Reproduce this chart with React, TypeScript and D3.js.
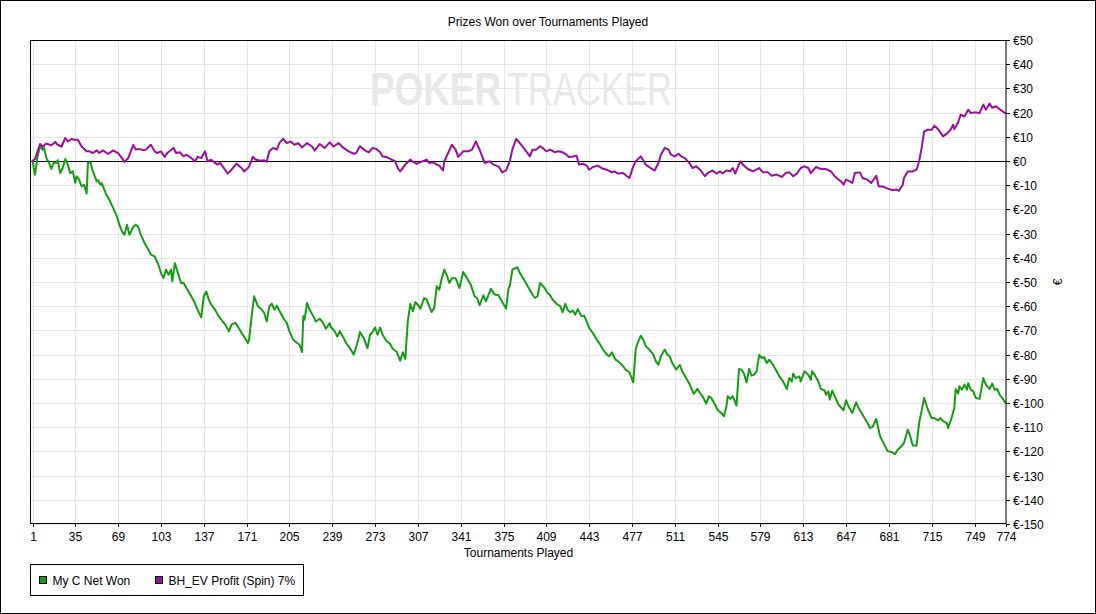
import React, { useEffect, useRef } from 'react';
import * as d3 from 'd3';

// [tournament, euros]
const netWon: [number, number][] = [
  [1, 0.5], [2, -2.9], [3, -5.7], [5, 1.9], [7, 6.3], [9, 4.7], [10, 5.8], [12, 1.2], [14, -0.6], [16, -3.3],
  [18, -0.6], [20, -0.8], [21, 0.3], [23, -5], [25, -2.9], [27, 0.8], [29, -1.5], [31, -5], [33, -4.3], [35, -9.1],
  [36, -6.3], [38, -7.7], [40, -10.5], [42, -9.8], [44, -13.5], [45, -0.6], [47, -0.6], [49, -4.3], [52, -8.4], [53, -8],
  [55, -9.8], [56, -9.1], [59, -13.2], [62, -16], [65, -19.4], [68, -22.9], [70, -26.3], [72, -29.1], [74, -30.5], [76, -26.3],
  [78, -30.5], [81, -27.3], [83, -26.3], [85, -27.3], [87, -30.5], [90, -33.9], [93, -36.6], [95, -38.7], [98, -39.4], [101, -42.9],
  [103, -46.3], [105, -48.4], [107, -44.9], [109, -47], [111, -44.9], [112, -49.7], [114, -42.2], [116, -45.6], [119, -50.4], [121, -50.4],
  [124, -53.2], [127, -55.9], [130, -58.7], [132, -61.4], [135, -64.6], [137, -55.9], [139, -53.9], [141, -57.3], [143, -59.4], [146, -61.4],
  [148, -63.5], [151, -65.6], [154, -67.6], [157, -70.4], [159, -67.6], [162, -66.9], [164, -68.3], [167, -71.1], [169, -72.5], [172, -75.2],
  [173, -73.8], [175, -64.2], [177, -55.9], [180, -60.1], [183, -61.4], [185, -62.8], [187, -66.3], [189, -60.1], [191, -58.9], [193, -61.4],
  [195, -59.8], [198, -62.8], [201, -65.6], [203, -67], [205, -70.4], [208, -73.8], [211, -75.2], [213, -75.9], [215, -78.9], [216, -64.2],
  [217, -65.6], [219, -58.7], [221, -61.4], [224, -64.2], [226, -66.3], [228, -65.6], [229, -65.2], [231, -66.3], [234, -69.3], [237, -67],
  [238, -68.7], [241, -70.4], [243, -72.5], [245, -70.3], [248, -73.1], [250, -75.2], [253, -77.3], [256, -80], [259, -75.2], [261, -70.7],
  [264, -73.2], [267, -77.3], [269, -71.8], [271, -70.7], [273, -68.8], [275, -71.8], [277, -68.8], [279, -71.8], [282, -74.3], [285, -75.6],
  [287, -77.6], [290, -78.7], [293, -82.5], [295, -79], [297, -81.8], [299, -66.3], [301, -59.1], [303, -62.1], [305, -58.3], [307, -59.4],
  [309, -61], [312, -56.6], [314, -57.3], [316, -60.1], [318, -62.4], [320, -60.7], [322, -51.8], [324, -53.2], [326, -48.4], [328, -44.9],
  [330, -47.3], [332, -50.4], [334, -48.4], [337, -48.4], [340, -52.5], [343, -45.9], [346, -48.4], [349, -51.1], [352, -55.9], [354, -56.6],
  [356, -59.6], [359, -55.5], [361, -58], [365, -52.8], [368, -55.2], [371, -55.5], [373, -57.3], [377, -61], [379, -52.5], [380, -51.8],
  [382, -44.9], [386, -43.9], [388, -46.3], [392, -49.7], [395, -52.5], [398, -55.2], [400, -56.6], [402, -55.9], [404, -50.4], [407, -52],
  [410, -54.5], [412, -55.5], [414, -57.3], [417, -59], [420, -60], [422, -62.5], [424, -59], [426, -61.6], [428, -62.5], [430, -61.8],
  [432, -63.5], [434, -61.2], [437, -64.2], [439, -64], [441, -66.3], [443, -69], [446, -71.1], [449, -73.8], [451, -75.2], [454, -77.9],
  [457, -80], [459, -80.7], [461, -79.1], [464, -82.1], [466, -82.8], [469, -84.2], [470, -84.9], [472, -86.2], [475, -87.3], [478, -91.5],
  [480, -77.7], [481, -75.9], [484, -72.2], [486, -73.8], [488, -76.6], [491, -78], [494, -80], [496, -82.8], [498, -84.2], [500, -80.7],
  [503, -77.9], [505, -80], [507, -80.7], [509, -83.5], [512, -86.2], [515, -84.2], [517, -87], [520, -89.7], [523, -92.5], [526, -96.2],
  [529, -94.2], [531, -95.9], [533, -97.2], [536, -100.3], [538, -97.2], [540, -97.9], [543, -100.7], [545, -102.8], [548, -104.2], [550, -105.5],
  [552, -101.4], [553, -97.2], [555, -98.3], [557, -97.2], [560, -101.1], [562, -85.9], [564, -86.2], [566, -87.9], [568, -91.5], [570, -85.9],
  [572, -88.7], [574, -88.3], [576, -86.9], [578, -80.1], [580, -81.4], [582, -81], [584, -83.5], [586, -82.1], [589, -84.2], [592, -87],
  [594, -89], [597, -91.1], [600, -94.2], [602, -89.7], [604, -91.1], [605, -87.9], [607, -89.7], [610, -89], [611, -91.1], [614, -86.9],
  [617, -88.3], [619, -90.4], [620, -86.9], [622, -88.3], [625, -91.1], [627, -94.2], [630, -94.8], [631, -96.6], [633, -95.2], [634, -98.6],
  [636, -94.9], [639, -98.4], [641, -100.7], [645, -103], [647, -98.9], [649, -101.4], [652, -104.1], [655, -99.7], [657, -102.1], [660, -104.8],
  [664, -108.3], [666, -110.3], [668, -109.9], [671, -106.6], [674, -113.8], [677, -116.8], [680, -119.9], [683, -120.2], [686, -121.1], [688, -119.3],
  [691, -117.9], [693, -116.5], [696, -111], [698, -113.8], [700, -117.6], [703, -117.6], [705, -108.3], [709, -97.9], [712, -102.8], [715, -106.2],
  [717, -106.2], [720, -107.2], [722, -106.2], [724, -107.5], [727, -108.3], [728, -110.3], [730, -107.5], [733, -102.1], [734, -94.2], [736, -96.1],
  [737, -93.1], [739, -94.5], [741, -92.4], [743, -94.5], [744, -91.8], [746, -94.5], [748, -95.2], [750, -97.9], [753, -98.3], [756, -89.7],
  [758, -92.4], [761, -94.2], [763, -92], [765, -94.5], [767, -94.2], [769, -96.6], [771, -97.9], [774, -100.3],
];

const evProfit: [number, number][] = [
  [1, 0], [3, 0.8], [7, 7], [9, 6], [12, 7.2], [16, 6.5], [19, 7.9], [21, 6.7], [24, 6], [27, 9.5],
  [29, 8.1], [32, 9.1], [34, 8.8], [37, 8.8], [40, 6], [44, 4], [46, 4], [49, 3.3], [52, 4.4], [54, 3.3],
  [57, 4.4], [61, 2.9], [65, 4.4], [69, 3.3], [72, 1.2], [74, -0.4], [77, 1.2], [81, 6.7], [83, 4.7], [86, 5],
  [89, 4.4], [91, 4.7], [95, 6.7], [98, 4], [100, 3.3], [103, 4], [106, 1.7], [108, 3.3], [113, 5.4], [115, 3.3],
  [118, 3.6], [121, 1.9], [123, 2.6], [126, 1.7], [128, 0.8], [130, -0.1], [132, 1.7], [135, 1.2], [138, 4], [140, -0.1],
  [143, 0.5], [146, -0.8], [148, -1.5], [150, -0.8], [152, -2.2], [156, -5.2], [159, -3.6], [163, -1.1], [167, -2.9], [169, -4.3],
  [172, -2.9], [173, -2.2], [176, 1.7], [178, 0.6], [182, 0.1], [185, 0.3], [187, -0.3], [189, 4], [192, 5.4], [195, 4.7],
  [197, 7.4], [200, 9.2], [203, 7.4], [206, 8.1], [209, 6.7], [212, 7.4], [215, 5.6], [219, 7.4], [223, 6], [225, 4.3],
  [229, 7], [233, 5.4], [237, 7.7], [240, 6], [244, 7.4], [248, 5.4], [252, 4], [256, 3], [258, 3.3], [261, 6.1],
  [265, 4.4], [268, 3.6], [271, 5.4], [274, 5], [277, 3.6], [279, 1.9], [282, 1.7], [286, 0.6], [289, -0.1], [291, -2.9],
  [293, -4.3], [297, -1.5], [301, 0.6], [303, -0.3], [306, -1.2], [309, -0.4], [311, -0.1], [314, 0.6], [316, -0.8], [319, -0.5],
  [322, -1.5], [324, -1.9], [327, -3.9], [328, -0.1], [331, 3.3], [334, 6.7], [337, 4.7], [339, 1.7], [343, 4], [347, 4],
  [350, 4.7], [353, 8.1], [356, 4.7], [360, -0.8], [364, -0.1], [367, -1.5], [371, -2.2], [374, -4.7], [377, -3.9], [380, -0.1],
  [382, 4.7], [385, 9.1], [388, 7.4], [392, 4.7], [396, 1.9], [398, 4.7], [401, 4.7], [404, 6.1], [406, 5.4], [409, 4],
  [412, 4.7], [416, 3.6], [418, 4], [422, 3.6], [425, 2.6], [427, 1.7], [430, 1.9], [433, 2.2], [435, -1.5], [438, -1.1],
  [441, -1.9], [443, -3.6], [446, -2.5], [450, -1.9], [453, -3], [457, -3.6], [461, -4.7], [463, -4.3], [466, -5.2], [470, -5],
  [473, -6.3], [475, -7], [478, -2.2], [480, -0.1], [484, 1.9], [486, 0.3], [488, -1.5], [492, -3], [495, -3.9], [498, -0.8],
  [500, 2.6], [503, 5.4], [506, 4.7], [508, 2.6], [511, 1.9], [514, 3], [516, 1.9], [519, 1.2], [523, -1.1], [525, -2.9],
  [528, -2.2], [531, -3.6], [535, -6.3], [537, -5], [541, -3.9], [544, -5.2], [547, -4.3], [549, -5.2], [552, -3.9], [555, -4.3],
  [557, -2.9], [559, -5.2], [563, -0.1], [565, -1.5], [569, -3.3], [573, -4.3], [578, -2.9], [581, -4.7], [585, -4.7], [588, -6.1],
  [592, -5.6], [596, -6.6], [599, -5], [602, -4.7], [605, -6.3], [608, -5.2], [611, -2.9], [614, -2.2], [617, -2.9], [619, -5],
  [623, -2.5], [627, -3.3], [631, -3.3], [635, -4.3], [638, -6.3], [641, -7.7], [643, -8.4], [645, -9.8], [647, -7.7], [650, -8.4],
  [652, -9.1], [654, -5], [658, -4.7], [660, -7], [664, -7.7], [667, -9.1], [671, -6.1], [673, -10.5], [676, -10.5], [680, -11.4],
  [684, -12.1], [687, -11.8], [689, -12.3], [692, -9.8], [693, -7], [696, -4.3], [700, -4.3], [703, -3.6], [705, -0.2], [707, 5.4],
  [709, 12.2], [712, 12.9], [715, 12.9], [717, 14.6], [720, 13.2], [724, 10.2], [727, 11.3], [730, 12.9], [732, 15], [733, 13.2],
  [736, 16], [738, 19.1], [741, 18.4], [744, 21.2], [746, 19.8], [749, 20.1], [753, 19.8], [756, 23.3], [758, 21.2], [761, 23.7],
  [763, 22], [766, 22.6], [770, 21], [774, 19.5],
];

const xTicks = [1, 35, 69, 103, 137, 171, 205, 239, 273, 307, 341, 375, 409, 443, 477, 511, 545, 579, 613, 647, 681, 715, 749, 774];
const yTicks = d3.range(50, -151, -10);
const seriesNames = ['My C Net Won', 'BH_EV Profit (Spin) 7%'];
const seriesColors = ['#179b17', '#9b109b'];

const W = 1096;
const H = 614;
const FONT = '"Liberation Sans", Arial, sans-serif';

const App = () => {
  const svgRef = useRef<SVGSVGElement>(null);

  useEffect(() => {
    const svg = d3.select(svgRef.current);
    svg.selectAll('*').remove();

    const left = 31, right = 1006, top = 40, bottom = 524;
    const x = d3.scaleLinear().domain([1, 774]).range([32.5, 1006]);
    const y = d3.scaleLinear().domain([-150, 50]).range([bottom, top]);
    const crisp = (v: number) => Math.round(v) + 0.5;

    svg.append('rect').attr('x', 0).attr('y', 0).attr('width', W).attr('height', H).attr('fill', '#fff');
    svg.append('rect').attr('x', 0.5).attr('y', 0.5).attr('width', W - 1).attr('height', H - 1)
      .attr('fill', 'none').attr('stroke', '#000');

    // title
    svg.append('text').attr('x', W / 2).attr('y', 26).attr('text-anchor', 'middle')
      .style('font-family', FONT).style('font-size', '12px').text('Prizes Won over Tournaments Played');

    // grid
    const grid = svg.append('g').attr('stroke', '#e6e6e6').attr('stroke-width', 1);
    yTicks.forEach(t => {
      grid.append('line').attr('x1', left).attr('x2', right).attr('y1', crisp(y(t))).attr('y2', crisp(y(t)));
    });
    xTicks.forEach(t => {
      grid.append('line').attr('x1', crisp(x(t))).attr('x2', crisp(x(t))).attr('y1', top).attr('y2', bottom);
    });

    // watermark: smaller font stretched vertically so the two words keep apart
    const wm = svg.append('g').attr('transform', 'translate(0, 105) scale(1, 1.22)')
      .style('font-family', FONT).style('font-size', '38px').attr('fill', '#e8e8e8');
    wm.append('text').attr('x', 370).attr('y', 0).attr('textLength', 131).attr('lengthAdjust', 'spacingAndGlyphs')
      .style('font-weight', 'bold').text('POKER');
    wm.append('text').attr('x', 507).attr('y', 0).attr('textLength', 165).attr('lengthAdjust', 'spacingAndGlyphs')
      .text('TRACKER');

    // zero line
    svg.append('line').attr('x1', left).attr('x2', right).attr('y1', crisp(y(0))).attr('y2', crisp(y(0)))
      .attr('stroke', '#000');

    // series
    const line = d3.line<[number, number]>().x(d => x(d[0])).y(d => y(d[1]));
    [netWon, evProfit].forEach((s, i) => {
      svg.append('path').attr('d', line(s)).attr('fill', 'none')
        .attr('stroke', seriesColors[i]).attr('stroke-width', 2).attr('stroke-linejoin', 'round');
    });

    // frame
    svg.append('rect').attr('x', left - 0.5).attr('y', top + 0.5).attr('width', right - left + 0.5).attr('height', bottom - top - 1)
      .attr('fill', 'none').attr('stroke', '#000');

    // right axis
    const ya = svg.append('g').style('font-family', FONT).style('font-size', '12px');
    yTicks.forEach(t => {
      const yy = crisp(y(t));
      ya.append('line').attr('x1', right).attr('x2', right + 4).attr('y1', yy).attr('y2', yy).attr('stroke', '#000');
      ya.append('text').attr('x', right + 7).attr('y', yy + 4.5)
        .text(t < 0 ? `€-${-t}` : `€${t}`);
    });
    ya.append('text').attr('transform', `translate(1062, ${(top + bottom) / 2}) rotate(-90)`)
      .attr('text-anchor', 'middle').text('€');

    // bottom axis
    const xa = svg.append('g').style('font-family', FONT).style('font-size', '12px');
    xTicks.forEach(t => {
      const xx = crisp(x(t));
      xa.append('line').attr('x1', xx).attr('x2', xx).attr('y1', bottom - 0.5).attr('y2', bottom + 3).attr('stroke', '#000');
      xa.append('text').attr('x', xx).attr('y', bottom + 17).attr('text-anchor', 'middle').text(t);
    });
    xa.append('text').attr('x', (left + right) / 2).attr('y', 557).attr('text-anchor', 'middle').text('Tournaments Played');

    // legend
    const lg = svg.append('g').style('font-family', FONT).style('font-size', '12px');
    lg.append('rect').attr('x', 30.5).attr('y', 564.5).attr('width', 273).attr('height', 31)
      .attr('fill', '#fff').attr('stroke', '#000');
    const legendX = [39.5, 155.5];
    seriesNames.forEach((name, i) => {
      lg.append('rect').attr('x', legendX[i]).attr('y', 576.5).attr('width', 7).attr('height', 7)
        .attr('fill', seriesColors[i]).attr('stroke', '#000');
      lg.append('text').attr('x', legendX[i] + 13).attr('y', 584.5).text(name);
    });
  }, []);

  return (
    <svg ref={svgRef} width={W} height={H} style={{ position: 'absolute', left: 0, top: 0 }} />
  );
};

export default App;
